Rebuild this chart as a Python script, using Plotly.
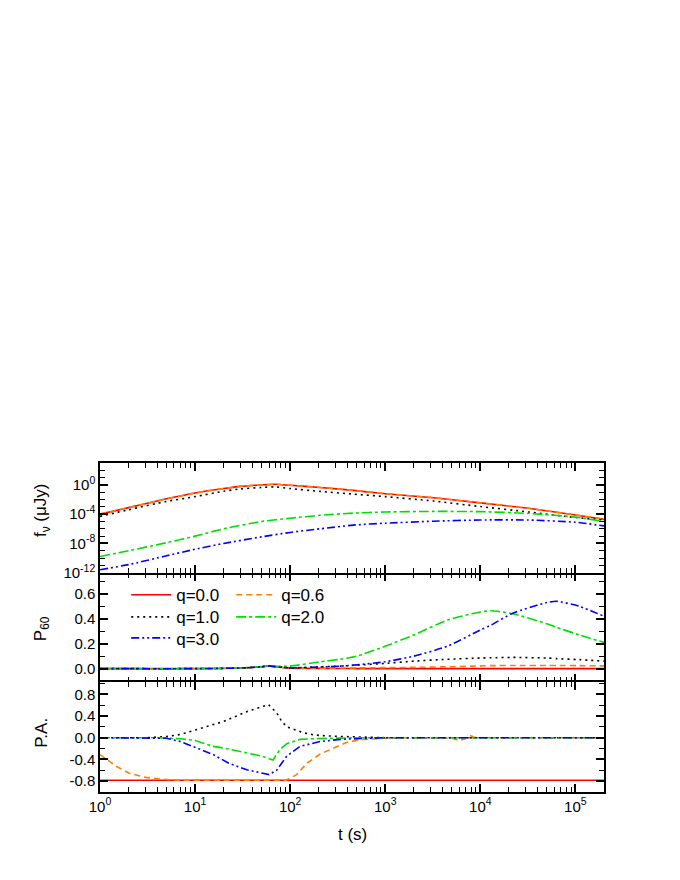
import plotly.graph_objects as go
from plotly.subplots import make_subplots

# ---- top panel: flux density f_nu (uJy) ----
T_FLUX = [1, 2, 5, 10, 20, 30, 50, 70, 100, 207, 460, 1e3, 3.2e3, 1e4, 3.2e4, 1e5, 2e5]
F_Q00 = [1e-4, 7.9e-4, 1.26e-2, 7.9e-2, 0.32, 0.63, 1.0, 1.26, 0.89, 0.45, 0.18,
         6.3e-2, 1.8e-2, 3.5e-3, 6.3e-4, 7.9e-5, 2e-5]
F_Q06 = [1e-4, 7.9e-4, 1.26e-2, 7.9e-2, 0.32, 0.63, 1.0, 1.25, 0.89, 0.45, 0.18,
         6.3e-2, 1.8e-2, 3.5e-3, 6.3e-4, 7.9e-5, 2e-5]
F_Q10 = [5e-5, 4e-4, 5.6e-3, 2.5e-2, 0.14, 0.28, 0.45, 0.54, 0.32, 0.13, 5.6e-2,
         2.5e-2, 6.3e-3, 1.1e-3, 2e-4, 3.5e-5, 1.6e-5]
T_FLUX_B = [1, 2, 5, 10, 20, 50, 100, 207, 460, 1e3, 3.2e3, 1e4, 3.2e4, 1e5, 2e5]
F_Q20 = [1.6e-10, 1e-9, 1.26e-8, 1e-7, 1e-6, 1e-5, 2.8e-5, 7.1e-5, 1.4e-4, 2e-4,
         2.4e-4, 2.2e-4, 1.26e-4, 4e-5, 1e-5]
F_Q30 = [2.5e-12, 1.26e-11, 2e-10, 1.6e-9, 1e-8, 7.9e-8, 3.2e-7, 1e-6, 3.2e-6,
         5.8e-6, 1.1e-5, 1.6e-5, 1.6e-5, 7.9e-6, 2.5e-6]

# ---- middle panel: P_60 ----
T_P = [1, 10, 30, 50, 60, 70, 100, 207, 335, 500, 1e3, 2e3, 4.5e3, 1e4, 1.3e4,
       2.2e4, 5e4, 6.4e4, 1.1e5, 2e5]
P_Q00 = [0, 0, 0.005, 0.015, 0.022, 0.015, 0.004, 0.002, 0.001, 0, 0, 0, 0, 0, 0,
         0, 0, 0, 0, 0]
P_Q06 = [0, 0, 0.005, 0.015, 0.022, 0.015, 0.005, 0.004, 0.005, 0.006, 0.008, 0.01,
         0.015, 0.022, 0.024, 0.025, 0.025, 0.025, 0.024, 0.022]
P_Q10 = [0, 0, 0.005, 0.015, 0.022, 0.018, 0.006, 0.015, 0.02, 0.028, 0.042, 0.06,
         0.075, 0.085, 0.087, 0.09, 0.085, 0.08, 0.072, 0.06]
P_Q20 = [0, 0, 0.006, 0.016, 0.022, 0.018, 0.02, 0.055, 0.075, 0.1, 0.18, 0.27,
         0.39, 0.455, 0.465, 0.44, 0.36, 0.33, 0.27, 0.21]
P_Q30 = [0, 0, 0.005, 0.015, 0.022, 0.015, 0.006, 0.013, 0.02, 0.03, 0.055, 0.10,
         0.18, 0.31, 0.35, 0.445, 0.53, 0.54, 0.50, 0.42]

# ---- bottom panel: P.A. ----
T_PA_Q00 = [1, 2e5]
PA_Q00 = [-0.785, -0.785]
T_PA_Q06 = [1, 1.5, 2, 3, 4.3, 6, 10, 50, 90, 117, 150, 207, 290, 400, 600, 1e3,
            3e3, 5e3, 6e3, 7e3, 7.8e3, 9e3, 2e4, 2e5]
PA_Q06 = [-0.31, -0.53, -0.65, -0.73, -0.76, -0.78, -0.785, -0.785, -0.785, -0.68,
          -0.47, -0.30, -0.18, -0.08, -0.03, -0.01, 0, -0.01, -0.05, -0.02, 0.04,
          0.0, 0, 0]
T_PA_Q10 = [1, 3, 5, 7, 10, 15.5, 20, 35, 50, 59, 72, 81, 92, 112, 138, 169, 207,
            311, 600, 1e3, 2e5]
PA_Q10 = [0, 0, 0.02, 0.06, 0.14, 0.25, 0.3, 0.48, 0.57, 0.61, 0.46, 0.31, 0.20,
          0.14, 0.09, 0.06, 0.04, 0.025, 0.01, 0, 0]
T_PA_Q20 = [1, 4, 7, 10, 15.5, 20, 35, 50, 66, 72, 78, 92, 127, 200, 500, 2e5]
PA_Q20 = [0, 0, -0.02, -0.05, -0.16, -0.19, -0.28, -0.34, -0.41, -0.32, -0.22,
          -0.11, -0.03, -0.015, 0, 0]
T_PA_Q30 = [1, 4, 5, 7, 10.6, 15.5, 22.6, 35, 50, 60, 72, 92, 127, 207, 340, 1e3, 2e5]
PA_Q30 = [0, 0, -0.01, -0.07, -0.19, -0.31, -0.47, -0.59, -0.65, -0.68, -0.6,
          -0.34, -0.16, -0.07, -0.03, 0, 0]

X_TICKVALS = [1, 10, 100, 1e3, 1e4, 1e5]
X_TICKTEXT = ["10<sup>0</sup>", "10<sup>1</sup>", "10<sup>2</sup>",
              "10<sup>3</sup>", "10<sup>4</sup>", "10<sup>5</sup>"]
F_TICKVALS = [1e-12, 1e-8, 1e-4, 1]
F_TICKTEXT = ["10<sup>-12</sup>", "10<sup>-8</sup>", "10<sup>-4</sup>", "10<sup>0</sup>"]

FONT = "Arial, Liberation Sans, sans-serif"

# colour and dash per q
STYLES = {
    "q=0.0": ("#FF0000", "solid"),
    "q=0.6": ("#FF8000", "6px,4px"),
    "q=1.0": ("#000000", "2px,4px"),
    "q=2.0": ("#00E000", "10px,3px,3px,3px"),
    "q=3.0": ("#0000FF", "8px,3px,2px,3px,2px,3px"),
}
# two-column legend built from three horizontal legends
LEGEND_OF = {"q=0.0": "legend", "q=0.6": "legend", "q=1.0": "legend2",
             "q=2.0": "legend2", "q=3.0": "legend3"}

fig = make_subplots(rows=3, cols=1, shared_xaxes=True, vertical_spacing=0)

panels = [
    (1, [("q=0.0", T_FLUX, F_Q00), ("q=0.6", T_FLUX, F_Q06), ("q=1.0", T_FLUX, F_Q10),
         ("q=2.0", T_FLUX_B, F_Q20), ("q=3.0", T_FLUX_B, F_Q30)], "spline"),
    (2, [("q=0.0", T_P, P_Q00), ("q=0.6", T_P, P_Q06), ("q=1.0", T_P, P_Q10),
         ("q=2.0", T_P, P_Q20), ("q=3.0", T_P, P_Q30)], "spline"),
    (3, [("q=0.0", T_PA_Q00, PA_Q00), ("q=0.6", T_PA_Q06, PA_Q06),
         ("q=1.0", T_PA_Q10, PA_Q10), ("q=2.0", T_PA_Q20, PA_Q20),
         ("q=3.0", T_PA_Q30, PA_Q30)], "linear"),
]

for row, series, shape in panels:
    for name, t, y in series:
        color, dash = STYLES[name]
        fig.add_trace(go.Scatter(
            x=t, y=y, mode="lines", name=name,
            line=dict(color=color, dash=dash, width=1.6, shape=shape,
                      smoothing=0.6 if shape == "spline" else None),
            showlegend=(row == 2), legend=LEGEND_OF[name],
        ), row=row, col=1)

x_minor = [m * 10 ** k for k in range(0, 6) for m in range(2, 10)]
axis_common = dict(linecolor="black", linewidth=1.5, mirror="ticks",
                   ticks="inside", ticklen=8, tickwidth=1.5, tickcolor="black",
                   showgrid=False, zeroline=False,
                   tickfont=dict(family=FONT, size=15, color="black"))
minor_common = dict(ticks="inside", ticklen=5, tickwidth=1.3, tickcolor="black",
                    showgrid=False)

# the middle panel draws no x line of its own, so the shared borders are drawn once
for row in (1, 2, 3):
    fig.update_xaxes(type="log", range=[0, 5.301], tickmode="array",
                     tickvals=X_TICKVALS, ticktext=X_TICKTEXT,
                     showticklabels=(row == 3), showline=(row != 2),
                     minor=dict(tickvals=x_minor, **minor_common),
                     row=row, col=1, **axis_common)

fig.update_yaxes(type="log", range=[-12, 3], tickmode="array",
                 tickvals=F_TICKVALS, ticktext=F_TICKTEXT, showline=True,
                 minor=dict(tickvals=[10.0 ** k for k in range(-12, 4)], **minor_common),
                 row=1, col=1, **axis_common)
fig.update_yaxes(range=[-0.11, 0.77], tickmode="array", showline=True,
                 tickvals=[0.0, 0.2, 0.4, 0.6], ticktext=["0.0", "0.2", "0.4", "0.6"],
                 minor=dict(dtick=0.1, **minor_common),
                 row=2, col=1, **axis_common)
fig.update_yaxes(range=[-1.0, 1.02], tickmode="array", showline=True,
                 tickvals=[-0.8, -0.4, 0.0, 0.4, 0.8],
                 ticktext=["-0.8", "-0.4", "0.0", "0.4", "0.8"],
                 minor=dict(dtick=0.2, **minor_common),
                 row=3, col=1, **axis_common)

leg = dict(orientation="h", xanchor="left", yanchor="middle", entrywidth=50,
           itemwidth=40, bgcolor="rgba(0,0,0,0)", traceorder="normal",
           font=dict(family=FONT, size=17, color="black"))
fig.update_layout(
    width=680, height=880,
    margin=dict(l=92, r=84, t=455, b=96),
    paper_bgcolor="white", plot_bgcolor="white",
    font=dict(family=FONT, color="black"),
    legend=dict(x=0.052, y=0.598, **leg),
    legend2=dict(x=0.052, y=0.531, **leg),
    legend3=dict(x=0.052, y=0.467, **leg),
)

title_font = dict(family=FONT, size=17, color="black")
for text, y in [("f<sub>ν</sub> (μJy)", 0.857), ("P<sub>60</sub>", 0.495),
                ("P.A.", 0.18)]:
    fig.add_annotation(text=text, xref="paper", yref="paper", x=-0.115, y=y,
                       textangle=-90, showarrow=False, xanchor="center",
                       yanchor="middle", font=title_font)
fig.add_annotation(text="t (s)", xref="paper", yref="paper", x=0.5, y=-0.13,
                   showarrow=False, xanchor="center", yanchor="middle",
                   font=title_font)

fig.write_html("out.html")
